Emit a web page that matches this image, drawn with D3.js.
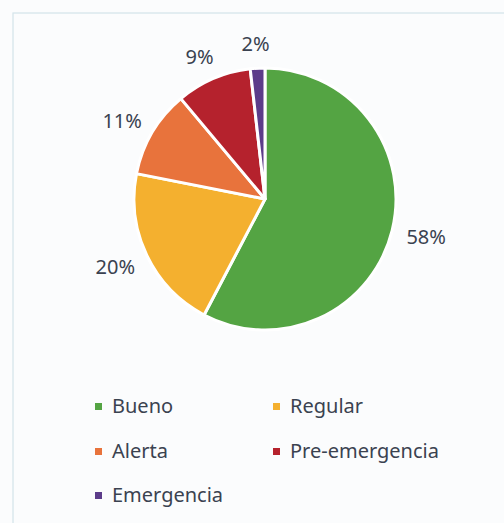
<!DOCTYPE html>
<html>
<head>
<meta charset="utf-8">
<script src="https://cdn.jsdelivr.net/npm/d3@7"></script>
<style>
  body { margin: 0; background: #fbfcfd; }
  text { font-family: "Noto Sans", sans-serif; }
</style>
</head>
<body>
<div id="chart"></div>
<script>
const width = 504
const height = 523

// data
const categories = ["Bueno", "Regular", "Alerta", "Pre-emergencia", "Emergencia"]
const values = [57.7, 20.4, 10.8, 9.3, 1.8]
const labels = ["58%", "20%", "11%", "9%", "2%"]
const colors = ["#54a443", "#f4b02f", "#e8733c", "#b5222d", "#5c3c8a"]

const cx = 265, cy = 199, radius = 131

const svg = d3.select("#chart")
              .append("svg")
              .attr("width", width)
              .attr("height", height)

svg.append("rect")
   .attr("width", width)
   .attr("height", height)
   .attr("fill", "#fbfcfd")

// faint frame of the scanned chart area
svg.append("rect")
   .attr("x", 13)
   .attr("y", 13)
   .attr("width", 510)
   .attr("height", 530)
   .attr("fill", "none")
   .attr("stroke", "#d3e3ea")
   .attr("stroke-width", 1.2)

const color = d3.scaleOrdinal().domain(categories).range(colors)

const pie = d3.pie().sort(null).value(d => d.value)
const arcs = pie(categories.map((c, i) => ({name: c, value: values[i], label: labels[i]})))

const arc = d3.arc().innerRadius(0).outerRadius(radius)

const g = svg.append("g").attr("transform", `translate(${cx},${cy})`)

g.selectAll("path")
 .data(arcs)
 .enter()
 .append("path")
 .attr("d", arc)
 .attr("fill", d => color(d.data.name))
 .attr("stroke", "#ffffff")
 .attr("stroke-width", 3)
 .attr("stroke-linejoin", "round")

// outside-end labels: text boxes are wider than tall, so push further sideways
const midAngle = d => (d.startAngle + d.endAngle) / 2
g.selectAll("text.lbl")
 .data(arcs)
 .enter()
 .append("text")
 .attr("class", "lbl")
 .attr("font-size", 20)
 .attr("fill", "#3a4250")
 .attr("text-anchor", "middle")
 .attr("x", d => (radius + 35) * Math.sin(midAngle(d)))
 .attr("y", d => -(radius + 25) * Math.cos(midAngle(d)) + 8)
 .text(d => d.data.label)

// legend
const legend = svg.append("g").attr("class", "legend")
const colX = [95, 273]
const rowY = [413, 458, 502]

const items = legend.selectAll("g")
                    .data(categories)
                    .enter()
                    .append("g")
                    .attr("transform", (d, i) => `translate(${colX[i % 2]},${rowY[Math.floor(i / 2)]})`)

items.append("rect")
     .attr("x", 0)
     .attr("y", -10)
     .attr("width", 7)
     .attr("height", 7)
     .attr("fill", d => color(d))

items.append("text")
     .attr("x", 17)
     .attr("y", 0)
     .attr("font-size", 20)
     .attr("fill", "#3a4250")
     .text(d => d)
</script>
</body>
</html>
